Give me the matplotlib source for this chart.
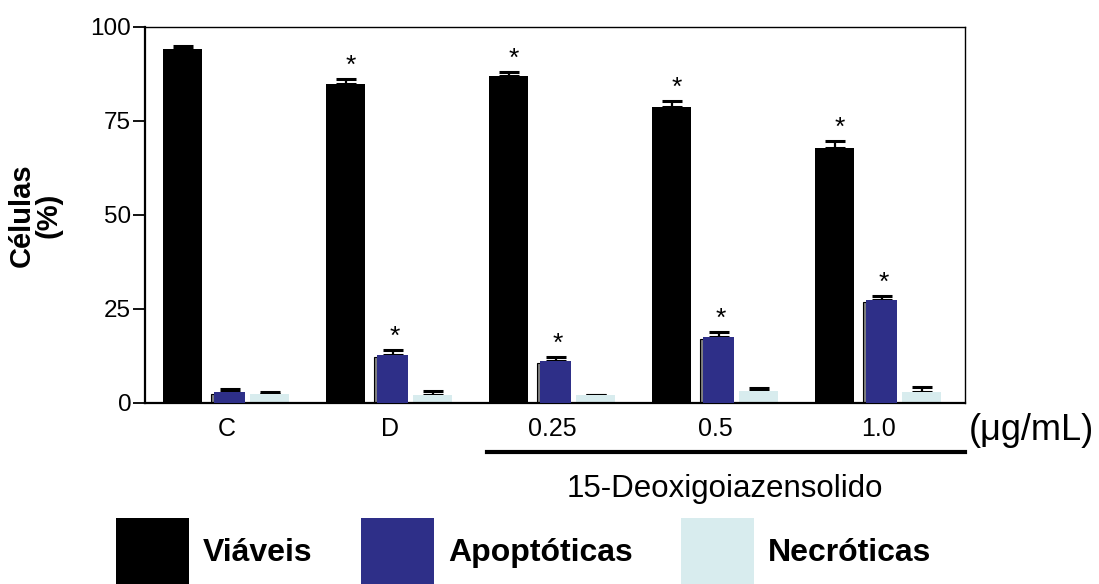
import numpy as np
import matplotlib
matplotlib.use("Agg")
from matplotlib import pyplot as plt
from matplotlib.patches import Patch

plt.rcParams['font.family'] = ['Liberation Sans', 'DejaVu Sans']

groups = ["C", "D", "0.25", "0.5", "1.0"]
viaveis = [94.0, 84.8, 87.0, 78.6, 67.8]
viaveis_err = [1.0, 1.3, 1.0, 1.6, 1.9]
apopt = [2.9, 12.8, 11.2, 17.6, 27.4]
apopt_err = [0.8, 1.4, 0.9, 1.3, 1.1]
necro = [2.4, 2.2, 2.0, 3.1, 3.0]
necro_err = [0.6, 0.9, 0.0, 0.9, 1.2]
star_viaveis = [False, True, True, True, True]
star_apopt = [False, True, True, True, True]

BLACK = "#000000"
BLUE = "#2e2f88"
LIGHT = "#d8ecee"

x = np.arange(len(groups))

fig = plt.figure(figsize=(10.99, 5.84), dpi=100)
ax = fig.add_axes([0.132, 0.310, 0.746, 0.644])

err_kw = dict(fmt='none', ecolor='black', elinewidth=1.6, capsize=7, capthick=2.2, zorder=1)

# viaveis
ax.bar(x - 0.27, viaveis, width=0.235, color=BLACK, zorder=2)
ax.errorbar(x - 0.27, viaveis, yerr=[np.zeros(5), viaveis_err], **err_kw)
# apoptoticas (grey shadow behind)
ax.bar(x + 0.0, [v - 0.5 for v in apopt], width=0.19, color="#808080", edgecolor="black", linewidth=0.8, zorder=2)
ax.bar(x + 0.02, apopt, width=0.19, color=BLUE, zorder=3)
ax.errorbar(x + 0.02, apopt, yerr=[np.zeros(5), apopt_err], **err_kw)
# necroticas
ax.bar(x + 0.265, necro, width=0.24, color=LIGHT, zorder=2)
ax.errorbar(x + 0.265, necro, yerr=[np.zeros(5), necro_err], **err_kw)

for i in range(len(groups)):
    if star_viaveis[i]:
        ax.text(x[i] - 0.24, viaveis[i] + viaveis_err[i] + 0.3, "*", ha='center', va='bottom', fontsize=19)
    if star_apopt[i]:
        ax.text(x[i] + 0.03, apopt[i] + apopt_err[i] + 0.3, "*", ha='center', va='bottom', fontsize=19)

ax.set_xlim(-0.5, 4.53)
ax.set_ylim(0, 100)
ax.set_yticks([0, 25, 50, 75, 100])
ax.set_xticks(x)
ax.set_xticklabels(groups)
ax.tick_params(axis='y', direction='out', length=9, width=1.3, labelsize=17.5, pad=1)
ax.tick_params(axis='x', length=0, labelsize=18, pad=10)
for s in ['left', 'bottom']:
    ax.spines[s].set_linewidth(1.6)
for s in ['top', 'right']:
    ax.spines[s].set_linewidth(1.0)

ax.set_ylabel("Células\n(%)", fontsize=21, fontweight='bold', labelpad=20, linespacing=0.95)

ax.text(1.005, -0.072, "(μg/mL)", transform=ax.transAxes, fontsize=26, ha='left', va='center')

trans = ax.get_xaxis_transform()
ax.plot([1.6, 4.53], [-0.13, -0.13], color='black', linewidth=3, transform=trans, clip_on=False)
ax.text(3.06, -0.228, "15-Deoxigoiazensolido", transform=trans, fontsize=22.5, ha='center', va='center')

handles = [Patch(facecolor=BLACK), Patch(facecolor=BLUE), Patch(facecolor=LIGHT)]
fig.legend(handles, ["Viáveis", "Apoptóticas", "Necróticas"], loc='center left',
           bbox_to_anchor=(0.079, 0.056), ncol=3, frameon=False,
           prop={'size': 23, 'weight': 'bold'}, handlelength=2.29, handleheight=2.79,
           handletextpad=0.45, columnspacing=1.5)

fig.savefig("out.png", dpi=100)
